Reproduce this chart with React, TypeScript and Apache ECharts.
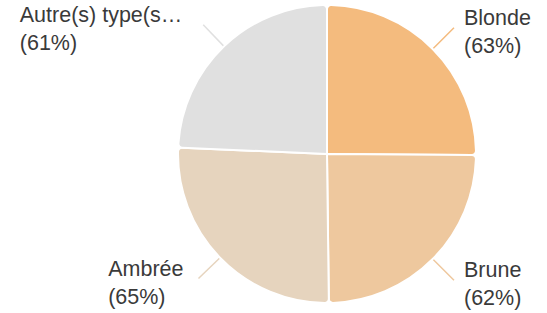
import React, { useEffect, useRef } from "react";
import * as echarts from "echarts";

const categories = ["Blonde", "Brune", "Ambrée", "Autre(s) type(s…"];
const values = [63, 62, 65, 61];
const percentLabels = ["63%", "62%", "65%", "61%"];
const colors = ["#F4BB7E", "#EEC89E", "#E6D4BE", "#E0E0E0"];
const labelGaps = [10, 10, 15, 21];

export default function App() {
  const ref = useRef<HTMLDivElement>(null);
  useEffect(() => {
    document.body.style.margin = "0";
    const chart = echarts.init(ref.current!, null, { renderer: "svg" });
    chart.setOption({
      animation: false,
      series: [
        {
          type: "pie",
          center: [327, 154],
          radius: [0, 149],
          startAngle: 90,
          clockwise: true,
          avoidLabelOverlap: false,
          itemStyle: { borderColor: "#fff", borderWidth: 2, borderRadius: 4 },
          label: {
            show: true,
            position: "outside",
            formatter: (p: any) => `{a|${p.name}}\n{a|(${percentLabels[p.dataIndex]})}`,
            distanceToLabelLine: 12,
            padding: [8, 0, 0, 0],
            rich: {
              a: {
                fontFamily: "'Liberation Sans', Arial, sans-serif",
                fontSize: 21.5,
                lineHeight: 28,
                color: "#3a3a3a",
                align: "left",
              },
            },
          },
          labelLine: { show: true, length: 30, length2: 0, smooth: false, lineStyle: { width: 1.5 } },
          emphasis: { disabled: true },
          data: categories.map((c, i) => ({
            name: c,
            value: values[i],
            itemStyle: { color: colors[i] },
            label: { distanceToLabelLine: labelGaps[i] },
          })),
        },
      ],
    });
    return () => chart.dispose();
  }, []);
  return <div ref={ref} style={{ width: 547, height: 313 }} />;
}
